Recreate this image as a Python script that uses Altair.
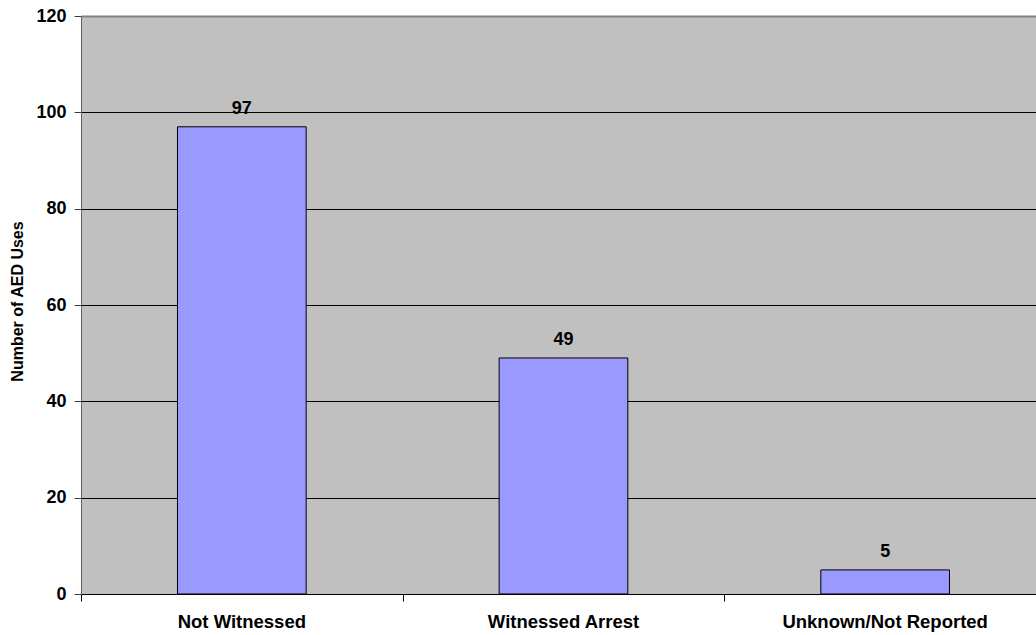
import altair as alt
import pandas as pd

# AED uses by arrest circumstance
categories = ["Not Witnessed", "Witnessed Arrest", "Unknown/Not Reported"]
counts = [97, 49, 5]
y_ticks = [0, 20, 40, 60, 80, 100, 120]

FONT = "Liberation Sans"
W, H = 955, 578

df = pd.DataFrame({"category": categories, "count": counts})
df["pos"] = range(len(df))
df["x0"] = df["pos"] + 0.3
df["x1"] = df["pos"] + 0.7
df["xc"] = df["pos"] + 0.5

x_scale = alt.Scale(domain=[0, 2.969], nice=False, zero=False)
y_scale = alt.Scale(domain=[0, 120], nice=False)

base = alt.Chart(df)

bars = base.mark_bar(fill="#9999FF", stroke="black", strokeWidth=1).encode(
    x=alt.X("x0:Q", scale=x_scale,
            axis=alt.Axis(values=[0, 1, 2], labels=False, title=None, grid=False,
                          tickSize=7, tickColor="black", domainColor="black",
                          domainWidth=1)),
    x2="x1",
    y=alt.Y("count:Q", scale=y_scale,
            axis=alt.Axis(values=y_ticks, title="Number of AED Uses",
                          tickSize=7, tickColor="#404040", domainColor="#606060",
                          labelFont=FONT, labelFontSize=18, labelFontWeight="bold",
                          labelColor="black", labelPadding=8,
                          gridColor=alt.condition("datum.value == 120",
                                                  alt.value("#808080"),
                                                  alt.value("black")),
                          gridWidth=alt.condition("datum.value == 120",
                                                  alt.value(2),
                                                  alt.value(1)),
                          gridOpacity=1,
                          titleFont=FONT, titleFontSize=16, titleFontWeight="bold",
                          titleColor="black", titleX=-64, titleY=285,
                          titleAngle=270, titleBaseline="middle",
                          titleAlign="center")),
    y2=alt.datum(0),
)

values = base.mark_text(font=FONT, fontSize=18, fontWeight="bold",
                        baseline="alphabetic", dy=-13, color="black").encode(
    x=alt.X("xc:Q", scale=x_scale),
    y=alt.Y("count:Q", scale=y_scale),
    text="count:Q",
)

cat_labels = base.mark_text(font=FONT, fontSize=18.5, fontWeight="bold",
                            baseline="alphabetic", color="black").encode(
    x=alt.X("xc:Q", scale=x_scale),
    y=alt.value(H + 34),
    text="category:N",
)

chart = (
    alt.layer(bars, values, cat_labels)
    .properties(width=W, height=H,
                autosize=alt.AutoSizeParams(type="none"),
                padding={"left": 81, "top": 16, "right": 0, "bottom": 41})
    .configure_view(fill="#C0C0C0", strokeWidth=0)
)

chart.save("out.html", embed_options={"renderer": "svg", "actions": False})
